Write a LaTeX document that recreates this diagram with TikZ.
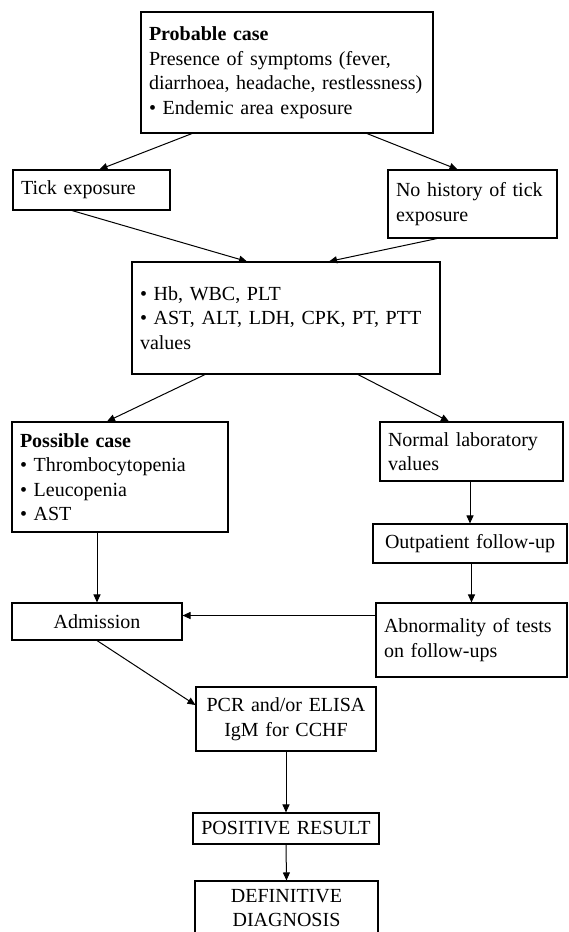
\documentclass[tikz,border=0pt]{standalone}
\usepackage{fontspec}
\setmainfont{Liberation Serif}
\usepackage{tikz}
\usetikzlibrary{arrows.meta}
\tikzset{
  box/.style={draw, line width=1.1pt, inner xsep=8pt, inner ysep=3pt, align=left},
  cbox/.style={box, align=center},
  arr/.style={line width=1pt, -{Triangle[length=8pt,width=7pt]}}
}

\begin{document}
\begin{tikzpicture}[x=1pt,y=-1pt,font=\fontsize{20}{24.5}\selectfont]
                \useasboundingbox (0,0) rectangle (568,932);

                %Top: probable case
                \node[box, text width=276pt, minimum height=121pt] (prob) at (287,72.5)
                    {\textbf{Probable case}\\Presence of symptoms (fever,\\diarrhoea, headache, restlessness)\\\textbullet\ Endemic area exposure};

                %exposure boxes
                \node[box, text width=141pt, minimum height=40pt] (tick) at (91.5,190) {Tick exposure};
                \node[box, text width=153pt, minimum height=68pt] (nohist) at (472.5,204) {No history of tick\\exposure};

                %laboratory values
                \node[box, text width=292pt, minimum height=112pt] (labs) at (286,318)
                    {\textbullet\ Hb, WBC, PLT\\\textbullet\ AST, ALT, LDH, CPK, PT, PTT\\values};

                %Left: possible case
                \node[box, text width=200pt, minimum height=110pt] (poss) at (120,477)
                    {\textbf{Possible case}\\\textbullet\ Thrombocytopenia\\\textbullet\ Leucopenia\\\textbullet\ AST};
                \node[cbox, text width=154pt, minimum height=37pt] (admis) at (97,621.5) {Admission};

                %Right: normal values and follow-up
                \node[box, text width=167pt, minimum height=59pt] (norm) at (471.5,451.5) {Normal laboratory\\values};
                \node[cbox, text width=178pt, minimum height=39pt] (outp) at (470,543.5) {Outpatient follow-up};
                \node[box, text width=175pt, minimum height=74pt] (abn) at (471.5,640) {Abnormality of tests\\on follow-ups};

                %Bottom: confirmation
                \node[cbox, text width=164pt, minimum height=64pt] (pcr) at (286,719) {PCR and/or ELISA\\IgM for CCHF};
                \node[cbox, text width=170pt, minimum height=31pt] (posr) at (286,828.5) {POSITIVE RESULT};
                \node[cbox, text width=167pt, minimum height=54pt] (defd) at (286.5,908) {DEFINITIVE\\DIAGNOSIS};

                %connectors
                \draw[arr] ([xshift=-95pt]prob.south) -- ([xshift=8pt]tick.north);
                \draw[arr] ([xshift=80pt]prob.south) -- ([xshift=-15pt]nohist.north);
                \draw[arr] ([xshift=-19.5pt]tick.south) -- ([xshift=-39pt]labs.north);
                \draw[arr] ([xshift=-35.5pt]nohist.south) -- ([xshift=43pt]labs.north);
                \draw[arr] ([xshift=-81pt]labs.south) -- ([xshift=-13pt]poss.north);
                \draw[arr] ([xshift=72pt]labs.south) -- ([xshift=-22.5pt]norm.north);
                \draw[arr] (poss.south -| admis.north) -- (admis.north);
                \draw[arr] (norm.south -| outp.north) -- (outp.north);
                \draw[arr] (outp.south -| abn.north) -- (abn.north);
                \draw[arr] ([yshift=6pt]abn.west |- admis.east) -- ([yshift=6pt]admis.east);
                \draw[arr] (admis.south) -- ([yshift=14pt]pcr.west);
                \foreach \a/\b in {pcr/posr, posr/defd}
                    \draw[arr] (\a.south) -- (\b.north);
            \end{tikzpicture}
\end{document}
